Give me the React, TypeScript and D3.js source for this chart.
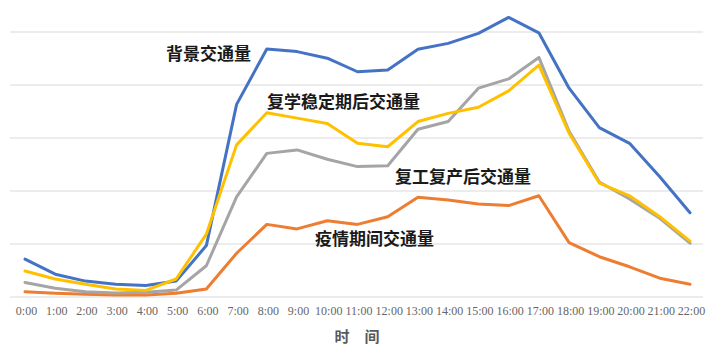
import React from "react";
import * as d3 from "d3";

const hours = ["0:00","1:00","2:00","3:00","4:00","5:00","6:00","7:00","8:00","9:00","10:00","11:00","12:00","13:00","14:00","15:00","16:00","17:00","18:00","19:00","20:00","21:00","22:00"];

const background = [14.3, 8.6, 6.0, 4.8, 4.3, 6.0, 19.4, 72.7, 93.6, 92.6, 90.1, 85.0, 85.7, 93.5, 95.7, 99.5, 105.5, 99.7, 78.8, 63.9, 58.0, 45.4, 31.8];
const epidemic = [2.0, 1.4, 1.0, 0.8, 0.8, 1.4, 3.0, 16.5, 27.4, 25.7, 28.8, 27.4, 30.3, 37.6, 36.6, 35.1, 34.5, 38.2, 20.5, 15.2, 11.4, 7.1, 4.8];
const resumeWork = [5.5, 3.3, 2.0, 1.5, 1.8, 2.6, 11.8, 37.8, 54.2, 55.5, 52.0, 49.2, 49.5, 63.3, 66.2, 78.8, 82.3, 90.4, 62.5, 43.4, 37.0, 29.7, 20.3];
const resumeSchool = [9.8, 6.8, 4.8, 3.0, 2.5, 6.8, 23.7, 57.4, 69.5, 67.5, 65.5, 58.0, 56.7, 66.2, 69.3, 71.6, 77.8, 87.5, 61.8, 43.0, 38.2, 30.3, 21.1];

const gridTicks = [0, 20, 40, 60, 80, 100];

const seriesList = [
  { name: "背景交通量", values: background, color: "#4472C4", lx: 166, ly: 52 },
  { name: "疫情期间交通量", values: epidemic, color: "#ED7D31", lx: 315, ly: 237 },
  { name: "复工复产后交通量", values: resumeWork, color: "#A5A5A5", lx: 395, ly: 175 },
  { name: "复学稳定期后交通量", values: resumeSchool, color: "#FFC000", lx: 267, ly: 100 },
];

export default function App() {
  const W = 727, H = 350;
  const x = d3.scalePoint<string>().domain(hours).range([25, 690]);
  const y = d3.scaleLinear().domain([0, 100]).range([297, 32]);
  const line = d3.line<number>()
    .x((_, i) => x(hours[i]) as number)
    .y((d) => y(d));

  return (
    <svg width={W} height={H} style={{ position: "absolute", left: 0, top: 0, background: "#fff" }}>
      {gridTicks.map((t) => (
        <line key={t} x1={10} x2={703} y1={y(t)} y2={y(t)} stroke="#d9d9d9" strokeWidth={1} />
      ))}
      {seriesList.map((s) => (
        <path key={s.name} d={line(s.values) || ""} fill="none" stroke={s.color} strokeWidth={3} strokeLinejoin="round" strokeLinecap="round" />
      ))}
      {hours.map((h) => (
        <text key={h} x={(x(h) as number) + 1.5} y={311} textAnchor="middle" dominantBaseline="central"
          fontFamily="'Liberation Serif', 'DejaVu Serif', serif" fontSize={12} fill="#666666">{h}</text>
      ))}
      <text x={357} y={335} textAnchor="middle" dominantBaseline="central"
        fontFamily="'Noto Sans CJK SC', sans-serif" fontSize={15} fontWeight="bold" fill="#595959">时　间</text>
      {seriesList.map((s) => (
        <text key={"l" + s.name} x={s.lx} y={s.ly} dominantBaseline="central"
          fontFamily="'Noto Sans CJK SC', sans-serif" fontSize={17} fontWeight="bold" fill="#1a1a1a">{s.name}</text>
      ))}
    </svg>
  );
}
